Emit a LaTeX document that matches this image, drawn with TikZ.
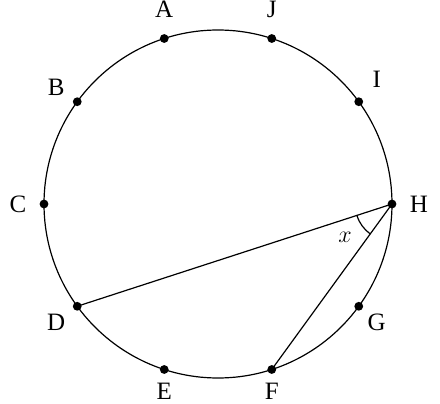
\documentclass[tikz,border=0pt]{standalone}
\usepackage{fontspec}
\setmainfont{Liberation Serif}
\usetikzlibrary{angles,calc}
\begin{document}
\begin{tikzpicture}[x=0.5pt,y=0.5pt,
  pt/.style={circle,fill=black,inner sep=0pt,minimum size=4.4pt},
  lbl/.style={inner sep=0pt,font=\fontsize{12.5}{14}\selectfont},
  ln/.style={line width=0.6pt}]
\useasboundingbox (0,0) rectangle (440,403);
\coordinate (O) at (218,199);
\draw[ln] (O) circle[radius=174];
\foreach \n/\a/\dx/\dy in {H/0/27/0,I/36/18/22,J/72/0/29,A/108/0/29,B/144/-21/14,C/180/-26/0,D/216/-21/-16,E/252/0/-22,F/288/0/-22,G/324/18/-16}{
  \node[pt] (p\n) at ($(O)+(\a:174)$) {};
  \node[lbl] (l\n) at ($(p\n)+(\dx,\dy)$) {\n};
}
\draw[ln] (pD.center) -- (pH.center) -- (pF.center);
\pic[draw,ln,angle radius=18.5pt] {angle=pD--pH--pF};
\node[lbl] (xl) at (345,166) {$x$};
\end{tikzpicture}
\end{document}
